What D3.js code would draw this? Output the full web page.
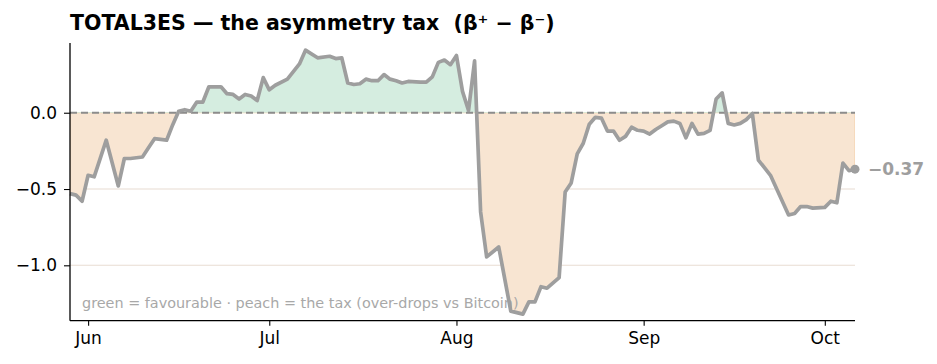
<!DOCTYPE HTML>
<html>
<head>
    <meta charset="utf-8">
    <title>TOTAL3ES asymmetry tax</title>
    <script src="https://d3js.org/d3.v7.min.js"></script>
    <style>
        body { margin: 0; background: #fff; }
        text { font-family: "DejaVu Sans", sans-serif; }
    </style>
</head>
<body>
<div class="chart"></div>
<script type="text/javascript">
    // daily beta spread (vertices only)
    var dates = ["2025-05-29","2025-05-30","2025-05-31","2025-06-01","2025-06-02","2025-06-04","2025-06-06","2025-06-07","2025-06-08","2025-06-10",
        "2025-06-11","2025-06-12","2025-06-14","2025-06-15","2025-06-16","2025-06-17","2025-06-18","2025-06-19","2025-06-20","2025-06-21",
        "2025-06-23","2025-06-24","2025-06-25","2025-06-26","2025-06-27","2025-06-28","2025-06-29","2025-06-30","2025-07-01","2025-07-02",
        "2025-07-04","2025-07-06","2025-07-07","2025-07-09","2025-07-11","2025-07-12","2025-07-13","2025-07-14","2025-07-15","2025-07-16",
        "2025-07-17","2025-07-18","2025-07-19","2025-07-20","2025-07-21","2025-07-22","2025-07-23","2025-07-24","2025-07-26","2025-07-27",
        "2025-07-28","2025-07-29","2025-07-30","2025-07-31","2025-08-01","2025-08-02","2025-08-03","2025-08-04","2025-08-05","2025-08-06",
        "2025-08-08","2025-08-10","2025-08-12","2025-08-13","2025-08-14","2025-08-15","2025-08-16","2025-08-18","2025-08-19","2025-08-20",
        "2025-08-21","2025-08-22","2025-08-23","2025-08-24","2025-08-25","2025-08-26","2025-08-27","2025-08-28","2025-08-29","2025-08-30",
        "2025-08-31","2025-09-01","2025-09-02","2025-09-03","2025-09-04","2025-09-05","2025-09-06","2025-09-07","2025-09-08","2025-09-09",
        "2025-09-10","2025-09-11","2025-09-12","2025-09-13","2025-09-14","2025-09-15","2025-09-16","2025-09-17","2025-09-18","2025-09-19",
        "2025-09-20","2025-09-21","2025-09-22","2025-09-25","2025-09-26","2025-09-27","2025-09-28","2025-09-29","2025-10-01","2025-10-02",
        "2025-10-03","2025-10-04","2025-10-05","2025-10-06"];
    var spread = [-0.53,-0.54,-0.58,-0.41,-0.42,-0.18,-0.48,-0.30,-0.30,-0.29,
        -0.23,-0.17,-0.18,-0.08,0.01,0.02,0.01,0.07,0.07,0.17,
        0.17,0.125,0.12,0.09,0.12,0.11,0.08,0.23,0.15,0.18,
        0.22,0.32,0.41,0.36,0.37,0.355,0.36,0.195,0.185,0.19,
        0.22,0.21,0.21,0.25,0.22,0.21,0.195,0.205,0.20,0.20,
        0.235,0.33,0.345,0.315,0.375,0.14,0.015,0.34,-0.65,-0.945,
        -0.88,-1.30,-1.32,-1.24,-1.24,-1.14,-1.15,-1.08,-0.52,-0.46,
        -0.27,-0.20,-0.075,-0.03,-0.035,-0.12,-0.12,-0.18,-0.155,-0.095,
        -0.115,-0.12,-0.14,-0.11,-0.085,-0.06,-0.055,-0.07,-0.165,-0.07,
        -0.14,-0.135,-0.115,0.09,0.13,-0.07,-0.08,-0.07,-0.045,-0.005,
        -0.31,-0.36,-0.41,-0.67,-0.66,-0.615,-0.615,-0.625,-0.62,-0.58,
        -0.59,-0.33,-0.38,-0.37];

    var monthTicks = ["2025-06-01","2025-07-01","2025-08-01","2025-09-01","2025-10-01"];
    var monthLabels = ["Jun","Jul","Aug","Sep","Oct"];
    var yTicks = [0, -0.5, -1.0];
    var yTickLabels = ["0.0", "\u22120.5", "\u22121.0"];

    var parse = d3.timeParse("%Y-%m-%d");
    var data = dates.map(function(d, i) {
        return { date: parse(d), v: spread[i] };
    });

    var W = 937, H = 364;
    var margin = { top: 43, right: 82, bottom: 43.3, left: 70 },
        width = W - margin.left - margin.right,
        height = H - margin.top - margin.bottom;

    var x = d3.scaleTime()
        .domain(d3.extent(data, function(d) { return d.date; }))
        .range([0, width]);
    var y = d3.scaleLinear().domain([-1.363, 0.457]).range([height, 0]);

    var svg = d3.select(".chart").append("svg")
        .attr("width", W)
        .attr("height", H);

    svg.append("text")
        .attr("x", margin.left)
        .attr("y", 30)
        .attr("font-size", "20.5px")
        .attr("font-weight", "bold")
        .attr("fill", "#000")
        .style("white-space", "pre")
        .text("TOTAL3ES \u2014 the asymmetry tax  (\u03b2\u207a \u2212 \u03b2\u207b)");

    var g = svg.append("g")
        .attr("transform", "translate(" + margin.left + "," + margin.top + ")");

    // clip areas above / below zero
    var defs = svg.append("defs");
    defs.append("clipPath").attr("id", "above")
        .append("rect").attr("x", 0).attr("y", 0)
        .attr("width", width).attr("height", y(0));
    defs.append("clipPath").attr("id", "below")
        .append("rect").attr("x", 0).attr("y", y(0))
        .attr("width", width).attr("height", height - y(0));

    // grid
    g.selectAll(".grid").data([-0.5, -1.0]).enter().append("line")
        .attr("x1", 0).attr("x2", width)
        .attr("y1", function(d) { return y(d); })
        .attr("y2", function(d) { return y(d); })
        .attr("stroke", "#e8dcd2")
        .attr("stroke-width", 1.1);

    var area = d3.area()
        .x(function(d) { return x(d.date); })
        .y0(y(0))
        .y1(function(d) { return y(d.v); });

    g.append("path")
        .attr("d", area(data))
        .attr("clip-path", "url(#above)")
        .attr("fill", "#d5ede0")
        .attr("stroke", "#bfe3cf")
        .attr("stroke-width", 1);

    g.append("path")
        .attr("d", area(data))
        .attr("clip-path", "url(#below)")
        .attr("fill", "#f8e5d2")
        .attr("stroke", "#f5cfa8")
        .attr("stroke-width", 1);

    // zero line
    g.append("line")
        .attr("x1", 0).attr("x2", width)
        .attr("y1", y(0)).attr("y2", y(0))
        .attr("stroke", "#8c8c8c")
        .attr("stroke-width", 1.8)
        .attr("stroke-dasharray", "7,4");

    g.append("text")
        .attr("x", 12)
        .attr("y", height - 13)
        .attr("font-size", "14.4px")
        .attr("fill", "#a8a8a8")
        .text("green = favourable \u00b7 peach = the tax (over-drops vs Bitcoin)");

    var line = d3.line()
        .x(function(d) { return x(d.date); })
        .y(function(d) { return y(d.v); });

    g.append("path")
        .attr("d", line(data))
        .attr("fill", "none")
        .attr("stroke", "#9e9e9e")
        .attr("stroke-width", 3.7)
        .attr("stroke-linejoin", "round");

    var last = data[data.length - 1];
    g.append("circle")
        .attr("cx", x(last.date))
        .attr("cy", y(last.v))
        .attr("r", 4.5)
        .attr("fill", "#9e9e9e");

    g.append("text")
        .attr("x", x(last.date) + 13)
        .attr("y", y(last.v))
        .attr("dy", "0.35em")
        .attr("font-size", "17px")
        .attr("font-weight", "bold")
        .attr("fill", "#9e9e9e")
        .text(d3.format(".2f")(last.v));

    // axes
    var xAxis = d3.axisBottom(x)
        .tickValues(monthTicks.map(parse))
        .tickFormat(function(d, i) { return monthLabels[i]; })
        .tickSize(5)
        .tickPadding(6);
    var yAxis = d3.axisLeft(y)
        .tickValues(yTicks)
        .tickFormat(function(d, i) { return yTickLabels[i]; })
        .tickSize(6)
        .tickPadding(7);

    var gx = g.append("g")
        .attr("transform", "translate(0," + height + ")")
        .call(xAxis);
    var gy = g.append("g").call(yAxis);

    [gx, gy].forEach(function(ax) {
        ax.select(".domain").attr("stroke", "#000").attr("stroke-width", 1.3);
        ax.selectAll(".tick line").attr("stroke", "#000").attr("stroke-width", 1.1);
        ax.selectAll(".tick text")
            .attr("font-family", "DejaVu Sans")
            .attr("font-size", "17px")
            .attr("fill", "#000");
    });
    gx.select(".domain").attr("d", "M0,0H" + width);
    gy.select(".domain").attr("d", "M0," + height + "V0");
</script>
</body>
</html>
